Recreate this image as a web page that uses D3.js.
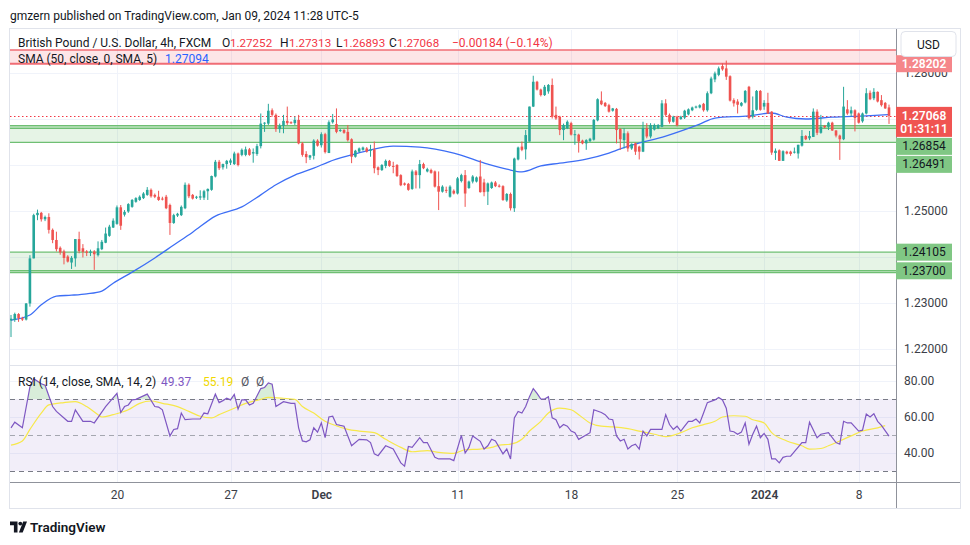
<!DOCTYPE html>
<html>
<head>
<meta charset="utf-8">
<script src="https://cdn.jsdelivr.net/npm/d3@7"></script>
<style>
  body { margin: 0; background: #fff; }
  text { font-family: Roboto, "Liberation Sans", sans-serif; }
</style>
</head>
<body>
<div id="chart"></div>
<script>
// GBPUSD 4h candles: [open, high, low, close]
const candles = [
  [1.2262,1.2274,1.2226,1.2266],[1.2263,1.2279,1.2259,1.2276],[1.2276,1.2278,1.2259,1.2267],[1.2267,1.2270,1.2261,1.2264],
  [1.2264,1.2300,1.2262,1.2299],[1.2299,1.2404,1.2292,1.2397],[1.2397,1.2494,1.2397,1.2491],[1.2491,1.2503,1.2480,1.2496],
  [1.2496,1.2498,1.2477,1.2482],[1.2482,1.2490,1.2478,1.2487],[1.2487,1.2495,1.2451,1.2459],[1.2459,1.2462,1.2430,1.2437],
  [1.2437,1.2455,1.2412,1.2417],[1.2420,1.2423,1.2405,1.2410],[1.2412,1.2416,1.2384,1.2398],[1.2401,1.2404,1.2388,1.2390],
  [1.2388,1.2402,1.2374,1.2398],[1.2397,1.2439,1.2379,1.2439],[1.2439,1.2455,1.2408,1.2413],[1.2419,1.2428,1.2399,1.2411],
  [1.2412,1.2415,1.2402,1.2409],[1.2409,1.2416,1.2402,1.2412],[1.2412,1.2415,1.2372,1.2406],[1.2404,1.2434,1.2401,1.2419],
  [1.2417,1.2437,1.2415,1.2433],[1.2431,1.2464,1.2430,1.2451],[1.2446,1.2470,1.2444,1.2466],[1.2464,1.2484,1.2463,1.2479],
  [1.2472,1.2512,1.2470,1.2508],[1.2508,1.2513,1.2459,1.2468],[1.2492,1.2502,1.2488,1.2498],[1.2499,1.2517,1.2496,1.2515],
  [1.2509,1.2526,1.2507,1.2524],[1.2520,1.2530,1.2518,1.2528],[1.2524,1.2534,1.2522,1.2531],[1.2528,1.2541,1.2526,1.2538],
  [1.2535,1.2552,1.2533,1.2546],[1.2546,1.2549,1.2529,1.2532],[1.2535,1.2538,1.2528,1.2531],[1.2531,1.2544,1.2522,1.2524],
  [1.2527,1.2531,1.2523,1.2525],[1.2531,1.2535,1.2504,1.2506],[1.2513,1.2516,1.2448,1.2474],[1.2474,1.2494,1.2472,1.2491],
  [1.2490,1.2496,1.2487,1.2494],[1.2491,1.2512,1.2489,1.2509],[1.2506,1.2562,1.2504,1.2557],[1.2557,1.2560,1.2528,1.2532],
  [1.2535,1.2537,1.2525,1.2527],[1.2529,1.2533,1.2526,1.2531],[1.2529,1.2545,1.2524,1.2532],[1.2529,1.2546,1.2524,1.2543],
  [1.2543,1.2549,1.2524,1.2548],[1.2546,1.2577,1.2544,1.2576],[1.2575,1.2611,1.2573,1.2607],[1.2607,1.2611,1.2589,1.2593],
  [1.2595,1.2603,1.2590,1.2602],[1.2602,1.2611,1.2592,1.2609],[1.2605,1.2614,1.2600,1.2610],[1.2602,1.2629,1.2600,1.2625],
  [1.2625,1.2627,1.2597,1.2600],[1.2622,1.2636,1.2619,1.2633],[1.2622,1.2640,1.2619,1.2634],[1.2634,1.2637,1.2620,1.2622],
  [1.2625,1.2636,1.2605,1.2628],[1.2624,1.2646,1.2620,1.2641],[1.2641,1.2712,1.2636,1.2690],[1.2690,1.2693,1.2672,1.2692],
  [1.2690,1.2733,1.2687,1.2718],[1.2719,1.2723,1.2705,1.2709],[1.2709,1.2712,1.2672,1.2678],[1.2678,1.2690,1.2670,1.2685],
  [1.2685,1.2709,1.2669,1.2696],[1.2696,1.2727,1.2687,1.2691],[1.2693,1.2695,1.2689,1.2691],[1.2691,1.2705,1.2687,1.2698],
  [1.2698,1.2709,1.2645,1.2647],[1.2647,1.2650,1.2618,1.2622],[1.2624,1.2630,1.2604,1.2617],[1.2616,1.2622,1.2611,1.2621],
  [1.2620,1.2656,1.2612,1.2653],[1.2653,1.2656,1.2640,1.2642],[1.2643,1.2671,1.2638,1.2667],[1.2667,1.2670,1.2625,1.2628],
  [1.2626,1.2697,1.2626,1.2693],[1.2693,1.2711,1.2690,1.2699],[1.2689,1.2723,1.2669,1.2672],[1.2674,1.2679,1.2672,1.2676],
  [1.2676,1.2678,1.2668,1.2670],[1.2672,1.2687,1.2651,1.2654],[1.2656,1.2658,1.2604,1.2618],[1.2618,1.2633,1.2616,1.2631],
  [1.2629,1.2638,1.2627,1.2636],[1.2633,1.2640,1.2631,1.2638],[1.2636,1.2639,1.2627,1.2629],[1.2631,1.2644,1.2618,1.2634],
  [1.2634,1.2651,1.2582,1.2593],[1.2595,1.2597,1.2578,1.2589],[1.2589,1.2602,1.2587,1.2600],[1.2598,1.2612,1.2593,1.2609],
  [1.2609,1.2611,1.2596,1.2598],[1.2598,1.2607,1.2582,1.2596],[1.2600,1.2602,1.2574,1.2576],[1.2578,1.2580,1.2554,1.2556],
  [1.2560,1.2562,1.2555,1.2557],[1.2559,1.2561,1.2544,1.2546],[1.2548,1.2590,1.2546,1.2586],[1.2586,1.2589,1.2549,1.2578],
  [1.2578,1.2611,1.2549,1.2602],[1.2602,1.2605,1.2591,1.2593],[1.2586,1.2594,1.2584,1.2591],[1.2589,1.2592,1.2581,1.2583],
  [1.2586,1.2588,1.2551,1.2553],[1.2554,1.2586,1.2502,1.2542],[1.2542,1.2556,1.2540,1.2553],[1.2546,1.2553,1.2539,1.2545],
  [1.2531,1.2556,1.2529,1.2553],[1.2544,1.2547,1.2536,1.2538],[1.2538,1.2574,1.2536,1.2571],[1.2565,1.2581,1.2562,1.2578],
  [1.2578,1.2589,1.2509,1.2538],[1.2550,1.2566,1.2548,1.2564],[1.2564,1.2578,1.2560,1.2575],[1.2564,1.2575,1.2562,1.2573],
  [1.2575,1.2611,1.2540,1.2541],[1.2562,1.2570,1.2532,1.2541],[1.2542,1.2562,1.2513,1.2560],[1.2550,1.2564,1.2548,1.2562],
  [1.2562,1.2565,1.2552,1.2554],[1.2555,1.2558,1.2551,1.2553],[1.2554,1.2556,1.2522,1.2524],[1.2523,1.2539,1.2520,1.2537],
  [1.2537,1.2540,1.2501,1.2506],[1.2506,1.2616,1.2498,1.2614],[1.2612,1.2640,1.2610,1.2638],[1.2640,1.2651,1.2630,1.2633],
  [1.2634,1.2676,1.2612,1.2665],[1.2651,1.2727,1.2651,1.2727],[1.2727,1.2794,1.2726,1.2781],[1.2781,1.2783,1.2762,1.2764],
  [1.2764,1.2766,1.2749,1.2752],[1.2752,1.2774,1.2750,1.2770],[1.2760,1.2776,1.2755,1.2774],[1.2774,1.2788,1.2701,1.2705],
  [1.2709,1.2727,1.2698,1.2701],[1.2705,1.2707,1.2665,1.2676],[1.2676,1.2690,1.2654,1.2687],[1.2680,1.2697,1.2678,1.2694],
  [1.2691,1.2694,1.2664,1.2666],[1.2665,1.2676,1.2644,1.2667],[1.2666,1.2668,1.2627,1.2651],[1.2653,1.2655,1.2645,1.2647],
  [1.2647,1.2656,1.2633,1.2654],[1.2652,1.2659,1.2650,1.2657],[1.2655,1.2700,1.2653,1.2698],[1.2697,1.2745,1.2695,1.2743],
  [1.2740,1.2760,1.2730,1.2732],[1.2735,1.2737,1.2726,1.2728],[1.2730,1.2733,1.2714,1.2716],[1.2718,1.2724,1.2716,1.2723],
  [1.2722,1.2724,1.2647,1.2676],[1.2678,1.2680,1.2633,1.2656],[1.2654,1.2680,1.2636,1.2669],[1.2669,1.2673,1.2629,1.2636],
  [1.2636,1.2647,1.2633,1.2646],[1.2647,1.2649,1.2622,1.2629],[1.2640,1.2642,1.2612,1.2629],[1.2629,1.2694,1.2628,1.2680],
  [1.2680,1.2691,1.2658,1.2662],[1.2662,1.2691,1.2658,1.2687],[1.2677,1.2690,1.2675,1.2687],[1.2680,1.2689,1.2678,1.2687],
  [1.2683,1.2741,1.2682,1.2734],[1.2734,1.2743,1.2705,1.2709],[1.2709,1.2712,1.2690,1.2694],[1.2694,1.2707,1.2692,1.2705],
  [1.2705,1.2707,1.2684,1.2686],[1.2700,1.2707,1.2698,1.2705],[1.2703,1.2720,1.2700,1.2718],[1.2710,1.2723,1.2708,1.2721],
  [1.2719,1.2727,1.2717,1.2725],[1.2725,1.2729,1.2723,1.2727],[1.2725,1.2732,1.2723,1.2730],[1.2733,1.2735,1.2716,1.2719],
  [1.2719,1.2760,1.2716,1.2756],[1.2756,1.2792,1.2754,1.2788],[1.2786,1.2803,1.2780,1.2799],[1.2796,1.2814,1.2793,1.2810],
  [1.2815,1.2821,1.2805,1.2808],[1.2810,1.2827,1.2785,1.2792],[1.2793,1.2795,1.2738,1.2740],[1.2741,1.2745,1.2727,1.2734],
  [1.2738,1.2743,1.2712,1.2731],[1.2729,1.2737,1.2727,1.2735],[1.2736,1.2763,1.2734,1.2761],[1.2770,1.2772,1.2699,1.2702],
  [1.2705,1.2749,1.2701,1.2719],[1.2720,1.2763,1.2718,1.2761],[1.2761,1.2763,1.2718,1.2720],[1.2727,1.2741,1.2720,1.2735],
  [1.2735,1.2757,1.2711,1.2712],[1.2716,1.2717,1.2622,1.2627],[1.2626,1.2636,1.2611,1.2631],[1.2632,1.2634,1.2609,1.2609],
  [1.2609,1.2632,1.2609,1.2630],[1.2629,1.2631,1.2623,1.2625],[1.2629,1.2631,1.2620,1.2624],[1.2627,1.2638,1.2625,1.2629],
  [1.2625,1.2644,1.2614,1.2644],[1.2642,1.2676,1.2640,1.2663],[1.2663,1.2665,1.2654,1.2656],[1.2658,1.2674,1.2654,1.2663],
  [1.2661,1.2723,1.2661,1.2716],[1.2716,1.2721,1.2665,1.2670],[1.2670,1.2709,1.2668,1.2683],[1.2685,1.2687,1.2680,1.2682],
  [1.2683,1.2694,1.2676,1.2692],[1.2692,1.2694,1.2674,1.2675],[1.2675,1.2676,1.2660,1.2664],[1.2664,1.2666,1.2611,1.2656],
  [1.2656,1.2770,1.2654,1.2727],[1.2721,1.2741,1.2709,1.2712],[1.2712,1.2727,1.2705,1.2719],[1.2719,1.2721,1.2673,1.2702],
  [1.2712,1.2714,1.2690,1.2692],[1.2695,1.2714,1.2692,1.2712],[1.2712,1.2767,1.2710,1.2756],[1.2757,1.2762,1.2741,1.2743],
  [1.2745,1.2767,1.2741,1.2759],[1.2759,1.2760,1.2736,1.2738],[1.2741,1.2752,1.2727,1.2730],[1.2735,1.2737,1.2722,1.2723],
  [1.27252,1.27313,1.26893,1.27068]
]

// SMA(50): [candle index, value]
const smaPoints = [[0,1.2263],[5,1.2274],[8,1.2296],[12,1.2315],[16,1.2317],[20,1.2320],[24,1.2326],[27,1.2343],[32,1.2367],
  [38,1.2398],[43,1.2426],[48,1.2454],[54,1.2489],[61,1.2509],[66,1.2535],[70,1.2557],[75,1.2578],[80,1.2593],[84,1.2607],
  [90,1.2622],[95,1.2633],[101,1.2641],[108,1.2639],[117,1.2626],[126,1.2602],[131,1.2591],[135,1.2585],[140,1.2598],
  [145,1.2604],[152,1.2613],[158,1.2626],[161,1.2635],[164,1.2643],[173,1.2663],[182,1.2689],[186,1.2702],[195,1.2707],
  [201,1.2713],[205,1.2704],[210,1.2700],[217,1.2704],[226,1.2707],[232,1.27094]]

// RSI(14): [candle index, value]
const rsiPoints = [[0,54.0],[1,57.1],[3,54.0],[5,76.7],[6,81.3],[8,78.5],[9,77.6],[11,65.8],[12,63.1],[15,57.6],[16,57.6],
  [17,64.0],[19,57.6],[21,57.6],[22,56.7],[25,65.8],[28,73.1],[29,62.5],[30,65.8],[31,66.7],[32,69.5],[33,69.8],[36,72.7],
  [38,65.8],[39,65.5],[40,64.0],[42,49.5],[43,53.1],[44,53.5],[45,62.2],[46,58.5],[48,58.9],[50,58.9],[51,62.2],[52,61.8],
  [54,72.7],[55,68.0],[56,69.1],[57,70.4],[58,69.5],[59,72.5],[60,64.4],[61,69.5],[62,69.5],[63,66.7],[64,67.6],[66,75.8],
  [67,76.4],[68,78.9],[69,78.2],[70,65.8],[72,68.5],[74,67.6],[75,67.6],[76,54.0],[77,46.7],[78,46.2],[79,47.3],[80,54.0],
  [81,51.6],[82,56.7],[83,48.5],[84,60.0],[85,60.4],[86,55.8],[87,55.3],[88,54.9],[90,44.0],[92,47.6],[94,47.3],[95,45.8],
  [96,39.5],[97,38.5],[99,44.0],[101,42.2],[103,34.5],[104,32.7],[105,43.6],[106,43.1],[108,48.5],[109,45.8],[110,45.8],
  [112,37.6],[113,36.7],[116,36.7],[117,35.8],[119,49.8],[120,40.0],[121,43.1],[122,49.5],[124,46.5],[125,42.2],[126,44.0],
  [127,47.6],[128,46.7],[130,39.5],[131,42.2],[132,36.7],[133,59.5],[134,63.1],[135,62.2],[136,65.8],[137,71.3],[138,75.8],
  [139,73.1],[140,70.0],[141,70.0],[142,71.3],[143,59.5],[144,58.5],[145,54.0],[146,55.8],[147,54.9],[148,52.2],[149,51.3],
  [150,47.6],[153,51.3],[154,64.0],[156,62.5],[157,61.3],[158,58.9],[159,58.5],[160,49.5],[161,46.7],[162,47.6],[163,42.2],
  [164,44.0],[165,44.9],[166,42.2],[167,52.2],[168,49.5],[169,53.1],[170,53.1],[172,53.1],[173,61.3],[174,55.8],[175,53.1],
  [176,54.9],[177,52.2],[178,54.9],[179,57.6],[180,57.6],[181,58.9],[182,56.7],[183,62.2],[184,68.0],[186,69.5],[187,70.9],
  [188,69.5],[189,64.9],[190,52.2],[191,51.8],[192,50.4],[193,51.6],[194,56.7],[195,44.9],[196,50.4],[197,54.9],[198,48.5],
  [199,50.9],[200,47.6],[201,36.7],[202,36.7],[203,34.5],[204,37.6],[205,38.2],[206,38.2],[209,45.8],[210,45.8],[211,57.1],
  [213,48.5],[214,50.4],[216,51.3],[218,45.8],[219,44.9],[220,57.6],[221,56.7],[222,56.7],[224,52.2],[225,52.7],[226,61.6],
  [227,60.0],[228,61.8],[229,57.6],[230,55.3],[232,49.37]]

// SMA(14) of RSI: [candle index, value]
const rsiMaPoints = [[0,44.4],[3,46.7],[5,53.1],[8,62.2],[10,66.7],[14,68.0],[17,68.5],[20,65.8],[23,61.3],[24,60.0],[27,61.3],
  [31,64.0],[34,67.6],[37,68.9],[40,67.6],[44,65.8],[47,63.1],[50,60.4],[53,59.5],[55,61.3],[59,64.9],[62,67.6],[66,69.8],
  [68,70.9],[72,70.4],[75,69.8],[77,65.8],[80,62.2],[83,57.6],[85,55.8],[89,53.1],[92,52.2],[96,51.3],[99,47.6],[103,43.1],
  [106,40.7],[110,41.3],[113,40.4],[117,39.8],[120,41.8],[124,42.2],[127,43.1],[129,44.4],[132,44.9],[135,47.6],[137,52.2],
  [140,57.6],[142,62.2],[145,64.9],[148,64.0],[150,61.3],[153,56.7],[156,54.9],[159,54.5],[163,53.5],[166,52.2],[170,50.4],
  [173,49.1],[177,51.3],[180,54.0],[183,55.8],[186,57.6],[188,60.0],[191,60.7],[194,60.4],[196,58.5],[199,56.7],[201,51.3],
  [205,46.7],[209,44.0],[211,42.2],[214,42.5],[216,44.0],[219,46.7],[222,49.5],[225,52.2],[229,54.0],[231,55.19]]

const priceTicks = [1.22, 1.23, 1.24, 1.25, 1.26, 1.27, 1.28]
const rsiTicks = [40, 60, 80]
const rsiBands = [30, 50, 70]
const dateTickIdx = [28, 58, 82, 118, 148, 176, 199, 224]
const dateTickLabels = ['20', '27', 'Dec', '11', '18', '25', '2024', '8']

const resistZone = [1.28202, 1.2850]
const supportZones = [[1.26491, 1.26854], [1.2366, 1.24105]]
const extraLevels = [1.2680, 1.2370]
const levelLabels = [1.28202, 1.26854, 1.26491, 1.24105, 1.23700]
const countdown = '01:31:11'

const up = '#26a69a', down = '#ef5350'
const L = 10, R = 896

let svg = d3.select('#chart').append('svg')
  .attr('width', 970)
  .attr('height', 545)

let x = d3.scaleLinear().domain([0, candles.length - 1]).range([11, 889])
let y = d3.scaleLinear().domain([1.216522, 1.289348]).range([365, 30])
let yr = d3.scaleLinear().domain([23.89, 88.33]).range([482, 366])

let defs = svg.append('defs')
defs.append('clipPath').attr('id', 'clipMain')
  .append('rect').attr('x', L).attr('y', 30).attr('width', R - L).attr('height', 335)
defs.append('clipPath').attr('id', 'clipRsi')
  .append('rect').attr('x', L).attr('y', 366).attr('width', R - L).attr('height', 116)
defs.append('clipPath').attr('id', 'clipOb')
  .append('rect').attr('x', L).attr('y', 366).attr('width', R - L).attr('height', yr(70) - 366)

// title
svg.append('text')
  .attr('x', 10).attr('y', 19.5)
  .attr('font-size', 12).attr('fill', '#131722')
  .text('gmzern published on TradingView.com, Jan 09, 2024 11:28 UTC-5')

// frame
svg.append('rect')
  .attr('x', 9.5).attr('y', 28.5).attr('width', 951).attr('height', 480)
  .attr('fill', 'none').attr('stroke', '#e0e3eb')

// grid
let grid = svg.append('g')
grid.selectAll('.hg').data(priceTicks).enter().append('line')
  .attr('x1', L).attr('x2', R)
  .attr('y1', d => Math.round(y(d)) + 0.5).attr('y2', d => Math.round(y(d)) + 0.5)
  .attr('stroke', '#f0f3fa')
grid.selectAll('.rg').data(rsiTicks).enter().append('line')
  .attr('x1', L).attr('x2', R)
  .attr('y1', d => Math.round(yr(d)) + 0.5).attr('y2', d => Math.round(yr(d)) + 0.5)
  .attr('stroke', '#f0f3fa')
grid.selectAll('.vg').data(dateTickIdx).enter().append('line')
  .attr('x1', d => Math.round(x(d)) + 0.5).attr('x2', d => Math.round(x(d)) + 0.5)
  .attr('y1', 30).attr('y2', 482)
  .attr('stroke', '#f0f3fa')

// main pane
let main = svg.append('g').attr('clip-path', 'url(#clipMain)')

main.append('rect')
  .attr('x', L).attr('width', R - L)
  .attr('y', y(resistZone[1])).attr('height', y(resistZone[0]) - y(resistZone[1]))
  .attr('fill', 'rgba(242,54,69,0.13)')
main.append('line')
  .attr('x1', L).attr('x2', R).attr('y1', y(resistZone[1])).attr('y2', y(resistZone[1]))
  .attr('stroke', '#f06d75').attr('stroke-width', 1.5)
main.append('line')
  .attr('x1', L).attr('x2', R).attr('y1', y(resistZone[0])).attr('y2', y(resistZone[0]))
  .attr('stroke', '#f06d75').attr('stroke-width', 2)

main.selectAll('.sz').data(supportZones).enter().append('rect')
  .attr('x', L).attr('width', R - L)
  .attr('y', d => y(d[1])).attr('height', d => y(d[0]) - y(d[1]))
  .attr('fill', 'rgba(76,175,80,0.14)')
main.selectAll('.szl').data(supportZones.flat().concat(extraLevels)).enter().append('line')
  .attr('x1', L).attr('x2', R).attr('y1', d => y(d)).attr('y2', d => y(d))
  .attr('stroke', '#6fbf73').attr('stroke-width', 1.4)

let last = candles[candles.length - 1]
main.append('line')
  .attr('x1', L).attr('x2', R).attr('y1', Math.round(y(last[3])) + 0.5).attr('y2', Math.round(y(last[3])) + 0.5)
  .attr('stroke', '#f23645').attr('stroke-dasharray', '1.5,2.5')

let sma = d3.line()
  .x(d => x(d[0]))
  .y(d => y(d[1]))
  .curve(d3.curveMonotoneX)
main.append('path')
  .datum(smaPoints)
  .attr('d', sma)
  .attr('fill', 'none').attr('stroke', '#3d6ef5').attr('stroke-width', 1.3)

let cg = main.append('g')
cg.selectAll('line').data(candles).enter().append('line')
  .attr('x1', (d, i) => x(i)).attr('x2', (d, i) => x(i))
  .attr('y1', d => y(d[1])).attr('y2', d => y(d[2]))
  .attr('stroke', d => d[3] >= d[0] ? up : down)
cg.selectAll('rect').data(candles).enter().append('rect')
  .attr('x', (d, i) => x(i) - 1.3).attr('width', 2.6)
  .attr('y', d => y(Math.max(d[0], d[3])))
  .attr('height', d => Math.max(1, Math.abs(y(d[0]) - y(d[3]))))
  .attr('fill', d => d[3] >= d[0] ? up : down)

// RSI pane
let rp = svg.append('g').attr('clip-path', 'url(#clipRsi)')
rp.append('rect')
  .attr('x', L).attr('width', R - L)
  .attr('y', yr(70)).attr('height', yr(30) - yr(70))
  .attr('fill', 'rgba(126,87,194,0.1)')
rp.selectAll('.band').data(rsiBands).enter().append('line')
  .attr('x1', L).attr('x2', R)
  .attr('y1', d => Math.round(yr(d)) + 0.5).attr('y2', d => Math.round(yr(d)) + 0.5)
  .attr('stroke', d => d === 50 ? '#a5a7b0' : '#787b86')
  .attr('stroke-dasharray', '5,4')

rp.append('path')
  .datum(rsiPoints)
  .attr('clip-path', 'url(#clipOb)')
  .attr('d', d3.area().x(d => x(d[0])).y0(yr(70)).y1(d => yr(d[1])))
  .attr('fill', 'rgba(76,175,80,0.22)')

rp.append('path')
  .datum(rsiMaPoints)
  .attr('d', d3.line().x(d => x(d[0])).y(d => yr(d[1])).curve(d3.curveMonotoneX))
  .attr('fill', 'none').attr('stroke', '#f7e84a').attr('stroke-width', 1.2)
rp.append('path')
  .datum(rsiPoints)
  .attr('d', d3.line().x(d => x(d[0])).y(d => yr(d[1])))
  .attr('fill', 'none').attr('stroke', '#7e57c2').attr('stroke-width', 1.2)

// separators
svg.append('line').attr('x1', L).attr('x2', R).attr('y1', 365.5).attr('y2', 365.5).attr('stroke', '#e0e3eb')
svg.append('line').attr('x1', L).attr('x2', 960).attr('y1', 482.5).attr('y2', 482.5).attr('stroke', '#8f929b')
svg.append('line').attr('x1', R + 0.5).attr('x2', R + 0.5).attr('y1', 29).attr('y2', 508).attr('stroke', '#8f929b')

// axes
let priceAxis = svg.append('g')
  .attr('transform', `translate(${R},0)`)
  .call(d3.axisRight(y).tickValues(priceTicks).tickFormat(d3.format('.5f')).tickSize(0).tickPadding(8))
let rsiAxis = svg.append('g')
  .attr('transform', `translate(${R},0)`)
  .call(d3.axisRight(yr).tickValues(rsiTicks).tickFormat(d3.format('.2f')).tickSize(0).tickPadding(8))
let timeAxis = svg.append('g')
  .attr('transform', 'translate(0,482)')
  .call(d3.axisBottom(x).tickValues(dateTickIdx).tickFormat((d, i) => dateTickLabels[i]).tickSize(0).tickPadding(8))
;[priceAxis, rsiAxis, timeAxis].forEach(a => {
  a.select('.domain').remove()
  a.selectAll('text')
    .attr('font-size', 12)
    .attr('fill', '#3b3e47')
    .style('font-family', 'Roboto, "Liberation Sans", sans-serif')
})
timeAxis.selectAll('text')
  .attr('font-weight', (d, i) => /[A-Za-z]|2024/.test(dateTickLabels[i]) ? 600 : 400)

// price scale labels
let labelG = svg.append('g')
let curTop = y(last[3]) - 9
labelG.append('rect')
  .attr('x', R).attr('y', curTop).attr('width', 56).attr('height', 30)
  .attr('fill', '#f05451')
labelG.append('text')
  .attr('x', R + 28).attr('y', curTop + 13).attr('text-anchor', 'middle')
  .attr('font-size', 12).attr('font-weight', 600).attr('fill', '#fff')
  .text(last[3].toFixed(5))
labelG.append('text')
  .attr('x', R + 28).attr('y', curTop + 26).attr('text-anchor', 'middle')
  .attr('font-size', 12).attr('font-weight', 600).attr('fill', '#fff')
  .text(countdown)

let placed = [[curTop, curTop + 30]]
levelLabels.slice().sort((a, b) => b - a).forEach(v => {
  let top = y(v) - 8.5
  placed.forEach(p => {
    if (top < p[1] + 1 && top + 17 > p[0]) top = p[1] + 1
  })
  placed.push([top, top + 17])
  let isRes = v === resistZone[0]
  labelG.append('rect')
    .attr('x', R).attr('y', top).attr('width', 56).attr('height', 17)
    .attr('fill', isRes ? '#f5868a' : '#80c784')
  labelG.append('text')
    .attr('x', R + 28).attr('y', top + 12.5).attr('text-anchor', 'middle')
    .attr('font-size', 12).attr('font-weight', isRes ? 600 : 400)
    .attr('fill', isRes ? '#fff' : '#131722')
    .text(v.toFixed(5))
})

// scale ticks hidden under a label box, as on the original scale
priceAxis.selectAll('.tick')
  .filter(d => placed.some(p => y(d) > p[0] && y(d) < p[1]))
  .remove()

// USD button
svg.append('rect')
  .attr('x', 901).attr('y', 31.5).attr('width', 55).attr('height', 25).attr('rx', 4)
  .attr('fill', '#fff').attr('stroke', '#e0e3eb')
svg.append('text')
  .attr('x', 917).attr('y', 48.5).attr('font-size', 12).attr('fill', '#131722')
  .text('USD')

// legends
let leg = svg.append('g').attr('font-size', 12)
leg.append('text').attr('x', 18).attr('y', 46.5).attr('fill', '#131722')
  .text('British Pound / U.S. Dollar, 4h, FXCM')
let ohlc = [['O', last[0], 222, 230], ['H', last[1], 280, 289], ['L', last[2], 336, 343], ['C', last[3], 389, 397]]
ohlc.forEach(o => {
  leg.append('text').attr('x', o[2]).attr('y', 46.5).attr('fill', '#131722').text(o[0])
  leg.append('text').attr('x', o[3]).attr('y', 46.5).attr('fill', '#f23645')
    .attr('font-size', 11.6).text(o[1].toFixed(5))
})
let chg = last[3] - last[0]
leg.append('text').attr('x', 452).attr('y', 46.5).attr('fill', '#f23645')
  .text(`\u2212${Math.abs(chg).toFixed(5)} (\u2212${Math.abs(chg / last[0] * 100).toFixed(2)}%)`)
leg.append('text').attr('x', 18).attr('y', 62.5).attr('fill', '#131722')
  .text('SMA (50, close, 0, SMA, 5)')
leg.append('text').attr('x', 165).attr('y', 62.5).attr('fill', '#2962ff')
  .text(smaPoints[smaPoints.length - 1][1].toFixed(5))

leg.append('text').attr('x', 18).attr('y', 385.5).attr('fill', '#131722')
  .text('RSI (14, close, SMA, 14, 2)')
leg.append('text').attr('x', 161).attr('y', 385.5).attr('fill', '#7e57c2')
  .text(rsiPoints[rsiPoints.length - 1][1].toFixed(2))
leg.append('text').attr('x', 203).attr('y', 385.5).attr('fill', '#f0d800')
  .text(rsiMaPoints[rsiMaPoints.length - 1][1].toFixed(2))
leg.append('text').attr('x', 241).attr('y', 385.5).attr('fill', '#50535e').text('\u00d8')
leg.append('text').attr('x', 256).attr('y', 385.5).attr('fill', '#50535e').text('\u00d8')

// footer logo
let logo = svg.append('g').attr('fill', '#131722')
logo.append('path').attr('d', 'M10 521.5h7.5v11h-3.6v-7.2h-3.9z')
logo.append('circle').attr('cx', 20.3).attr('cy', 523.6).attr('r', 1.9)
logo.append('path').attr('d', 'M23.2 521.5h3.8l-4.3 11h-3.8z')
svg.append('text')
  .attr('x', 30).attr('y', 532).attr('font-size', 13.5).attr('font-weight', 600).attr('fill', '#131722')
  .text('TradingView')
</script>
</body>
</html>
